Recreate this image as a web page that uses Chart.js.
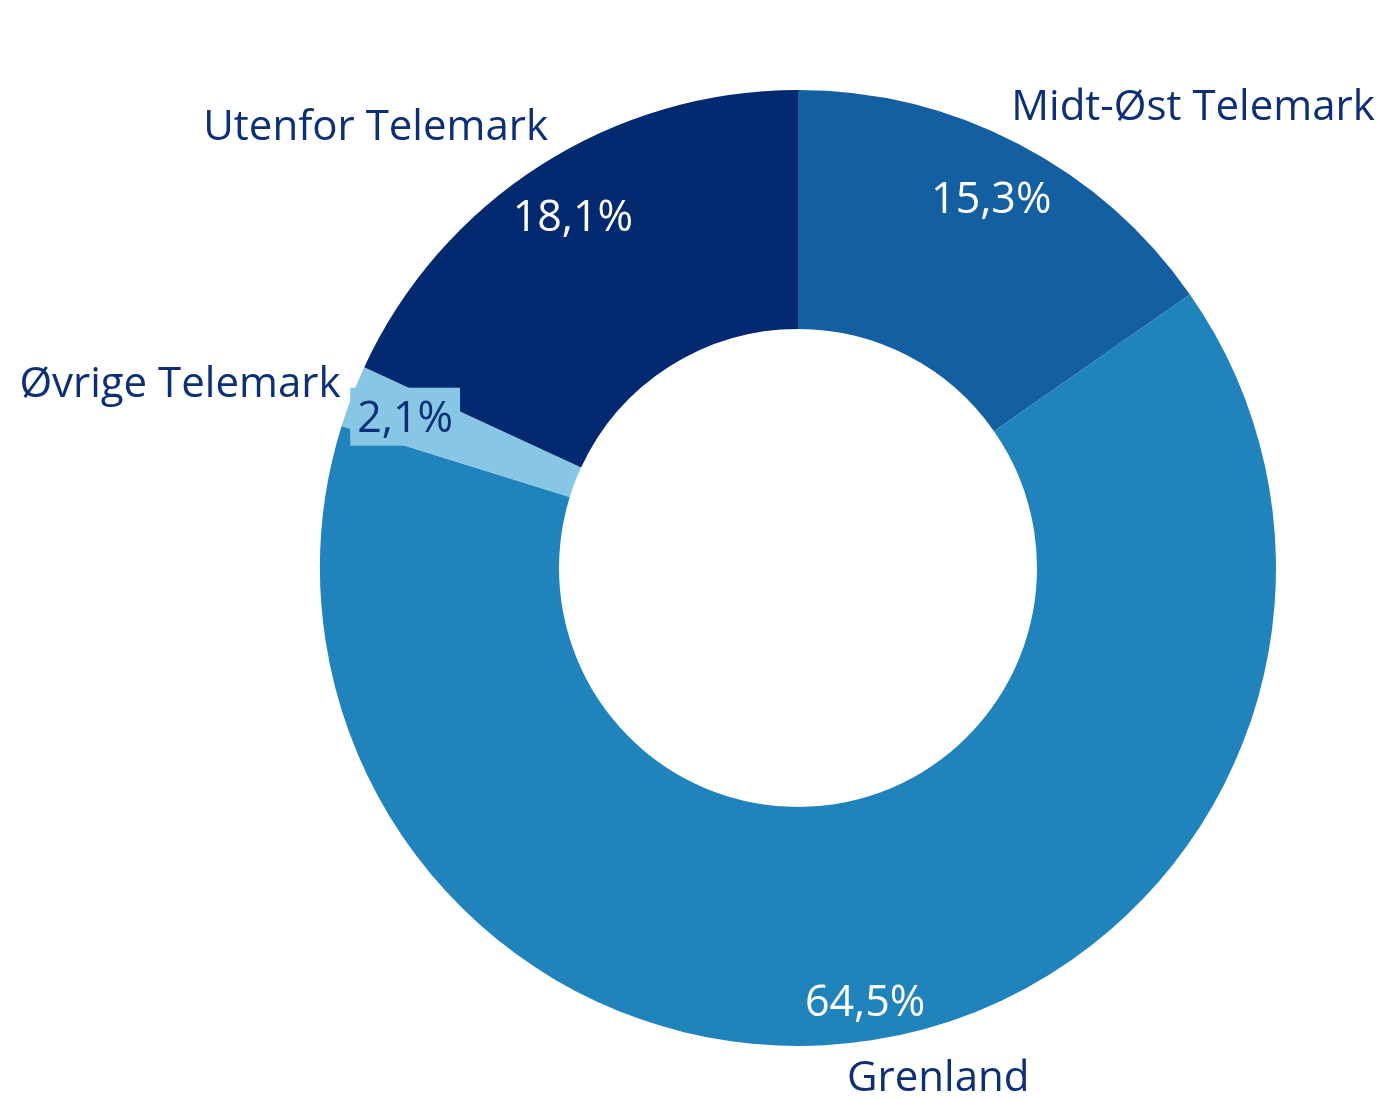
<!DOCTYPE html>
<html>
<head>
<meta charset="utf-8">
<script src="https://cdn.jsdelivr.net/npm/chart.js@4.4.1/dist/chart.umd.min.js"></script>
<style>
  html, body { margin: 0; padding: 0; background: #ffffff; }
  #wrap { width: 1380px; height: 1100px; position: relative; }
</style>
</head>
<body>
<div id="wrap"><canvas id="c" width="1380" height="1100"></canvas></div>
<script>
const categories = ['Midt-Øst Telemark', 'Grenland', 'Øvrige Telemark', 'Utenfor Telemark'];
const shares = [15.3, 64.5, 2.1, 18.1];
const percentLabels = ['15,3%', '64,5%', '2,1%', '18,1%'];
const sliceColors = ['#145fa1', '#2183bc', '#88c6e6', '#032a71'];

const TEXT_NAVY = '#0d2f77';
const FONT = '"Open Sans", "Liberation Sans", sans-serif';

// label layout: percent label radius (px from centre), name label offsets relative to the arc's outer mid point
const labelLayout = [
  { pr: 418, nameDx: 174, nameDy: -36, pctColor: '#ffffff', box: null },
  { pr: 438, nameDx: 67, nameDy: 39, pctColor: '#ffffff', box: null },
  { pr: 421, nameDx: -172, nameDy: -11, pctColor: TEXT_NAVY, box: '#88c6e6' },
  { pr: 418, nameDx: -165, nameDy: -37, pctColor: '#ffffff', box: null }
];

const labelPlugin = {
  id: 'donutLabels',
  afterDatasetsDraw(chart) {
    const ctx = chart.ctx;
    const meta = chart.getDatasetMeta(0);
    ctx.save();
    meta.data.forEach((arc, i) => {
      const p = arc.getProps(['x', 'y', 'startAngle', 'endAngle', 'outerRadius', 'innerRadius'], true);
      const mid = (p.startAngle + p.endAngle) / 2;
      const L = labelLayout[i];
      // percent label
      const px = p.x + Math.cos(mid) * L.pr;
      const py = p.y + Math.sin(mid) * L.pr;
      ctx.font = '43px ' + FONT;
      ctx.textAlign = 'center';
      ctx.textBaseline = 'middle';
      if (L.box) {
        const w = ctx.measureText(percentLabels[i]).width + 14;
        const h = 58;
        ctx.fillStyle = L.box;
        ctx.fillRect(px - w / 2, py - h / 2, w, h);
      }
      ctx.fillStyle = L.pctColor;
      ctx.fillText(percentLabels[i], px, py + 3);
      // category name
      const ox = p.x + Math.cos(mid) * p.outerRadius;
      const oy = p.y + Math.sin(mid) * p.outerRadius;
      ctx.font = '42px ' + FONT;
      ctx.fillStyle = TEXT_NAVY;
      ctx.fillText(categories[i], ox + L.nameDx, oy + L.nameDy);
    });
    ctx.restore();
  }
};

new Chart(document.getElementById('c'), {
  type: 'doughnut',
  data: {
    labels: categories,
    datasets: [{
      data: shares,
      backgroundColor: sliceColors,
      borderWidth: 0,
      hoverOffset: 0
    }]
  },
  options: {
    responsive: false,
    animation: false,
    cutout: '50%',
    layout: { padding: { left: 320, right: 104, top: 90, bottom: 54 } },
    plugins: {
      legend: { display: false },
      tooltip: { enabled: false }
    }
  },
  plugins: [labelPlugin]
});
</script>
</body>
</html>
